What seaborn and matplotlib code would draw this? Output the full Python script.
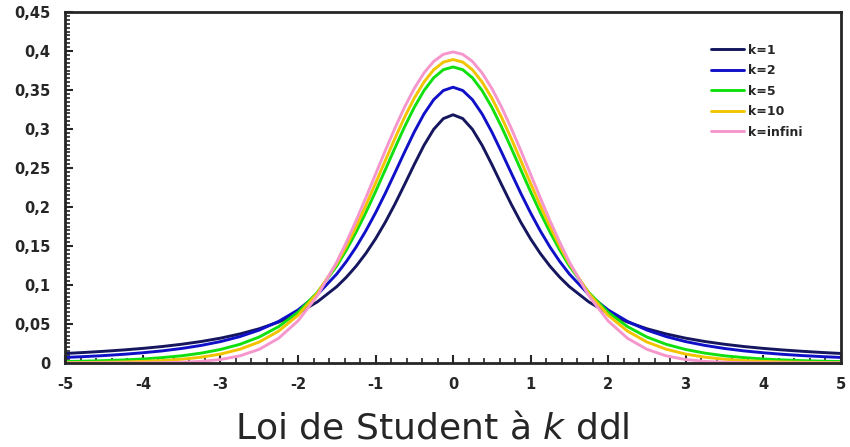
import numpy as np
import pandas as pd
import matplotlib
matplotlib.use("Agg")
import matplotlib.pyplot as plt
import seaborn as sns
from matplotlib.ticker import MultipleLocator, FuncFormatter

# x positions: step 0.25 in the tails, 0.125 around the peak
x_vals = [-5.0, -4.75, -4.5, -4.25, -4.0, -3.75, -3.5, -3.25, -3.0, -2.75, -2.5,
          -2.25, -2.0, -1.75, -1.5, -1.375, -1.25, -1.125, -1.0, -0.875, -0.75,
          -0.625, -0.5, -0.375, -0.25, -0.125, 0.0,
          0.125, 0.25, 0.375, 0.5, 0.625, 0.75, 0.875, 1.0, 1.125, 1.25,
          1.375, 1.5, 1.75, 2.0, 2.25, 2.5, 2.75, 3.0, 3.25, 3.5,
          3.75, 4.0, 4.25, 4.5, 4.75, 5.0]

# density values read for each curve
k1 = [0.0122, 0.0135, 0.0150, 0.0167, 0.0187, 0.0211, 0.0240, 0.0275, 0.0318, 0.0372, 0.0439,
      0.0525, 0.0637, 0.0784, 0.0979, 0.1101, 0.1242, 0.1405, 0.1592, 0.1803, 0.2037,
      0.2289, 0.2546, 0.2791, 0.2996, 0.3134, 0.3183,
      0.3134, 0.2996, 0.2791, 0.2546, 0.2289, 0.2037, 0.1803, 0.1592, 0.1405, 0.1242,
      0.1101, 0.0979, 0.0784, 0.0637, 0.0525, 0.0439, 0.0372, 0.0318, 0.0275, 0.0240,
      0.0211, 0.0187, 0.0167, 0.0150, 0.0135, 0.0122]
k2 = [0.0071, 0.0082, 0.0095, 0.0111, 0.0131, 0.0155, 0.0186, 0.0225, 0.0274, 0.0338, 0.0422,
      0.0533, 0.0680, 0.0878, 0.1141, 0.1303, 0.1487, 0.1695, 0.1925, 0.2174, 0.2438,
      0.2705, 0.2963, 0.3193, 0.3376, 0.3494, 0.3536,
      0.3494, 0.3376, 0.3193, 0.2963, 0.2705, 0.2438, 0.2174, 0.1925, 0.1695, 0.1487,
      0.1303, 0.1141, 0.0878, 0.0680, 0.0533, 0.0422, 0.0338, 0.0274, 0.0225, 0.0186,
      0.0155, 0.0131, 0.0111, 0.0095, 0.0082, 0.0071]
k5 = [0.0018, 0.0023, 0.0030, 0.0039, 0.0051, 0.0069, 0.0092, 0.0126, 0.0173, 0.0239, 0.0333,
      0.0466, 0.0651, 0.0905, 0.1245, 0.1450, 0.1679, 0.1929, 0.2197, 0.2476, 0.2757,
      0.3029, 0.3279, 0.3493, 0.3657, 0.3761, 0.3796,
      0.3761, 0.3657, 0.3493, 0.3279, 0.3029, 0.2757, 0.2476, 0.2197, 0.1929, 0.1679,
      0.1450, 0.1245, 0.0905, 0.0651, 0.0466, 0.0333, 0.0239, 0.0173, 0.0126, 0.0092,
      0.0069, 0.0051, 0.0039, 0.0030, 0.0023, 0.0018]
k10 = [0.0004, 0.0006, 0.0009, 0.0013, 0.0020, 0.0031, 0.0048, 0.0074, 0.0114, 0.0176, 0.0269,
       0.0409, 0.0612, 0.0895, 0.1274, 0.1501, 0.1751, 0.2020, 0.2304, 0.2593, 0.2880,
       0.3152, 0.3397, 0.3603, 0.3760, 0.3858, 0.3891,
       0.3858, 0.3760, 0.3603, 0.3397, 0.3152, 0.2880, 0.2593, 0.2304, 0.2020, 0.1751,
       0.1501, 0.1274, 0.0895, 0.0612, 0.0409, 0.0269, 0.0176, 0.0114, 0.0074, 0.0048,
       0.0031, 0.0020, 0.0013, 0.0009, 0.0006, 0.0004]
k_inf = [0.0000, 0.0000, 0.0000, 0.0000, 0.0001, 0.0004, 0.0009, 0.0020, 0.0044, 0.0091, 0.0175,
         0.0317, 0.0540, 0.0863, 0.1295, 0.1550, 0.1826, 0.2119, 0.2420, 0.2721, 0.3011,
         0.3282, 0.3521, 0.3719, 0.3867, 0.3958, 0.3989,
         0.3958, 0.3867, 0.3719, 0.3521, 0.3282, 0.3011, 0.2721, 0.2420, 0.2119, 0.1826,
         0.1550, 0.1295, 0.0863, 0.0540, 0.0317, 0.0175, 0.0091, 0.0044, 0.0020, 0.0009,
         0.0004, 0.0001, 0.0000, 0.0000, 0.0000, 0.0000]

labels = ["k=1", "k=2", "k=5", "k=10", "k=infini"]
colors = ["#15165e", "#1010c8", "#10e010", "#f2c400", "#f596cc"]

frames = []
for lab, vals in zip(labels, [k1, k2, k5, k10, k_inf]):
    frames.append(pd.DataFrame({"x": x_vals, "y": vals, "k": lab}))
df = pd.concat(frames, ignore_index=True)

sns.set_style("ticks")
plt.rcParams["font.family"] = ["DejaVu Sans"]

fig = plt.figure(figsize=(8.5, 4.47), dpi=100)
ax = fig.add_axes([0.077, 0.188, 0.912, 0.785])

sns.lineplot(data=df, x="x", y="y", hue="k", palette=dict(zip(labels, colors)),
             linewidth=2.1, ax=ax)

ax.set_xlim(-5, 5)
ax.set_ylim(0, 0.45)
ax.xaxis.set_major_locator(MultipleLocator(1))
ax.xaxis.set_minor_locator(MultipleLocator(0.2))
ax.yaxis.set_major_locator(MultipleLocator(0.05))
ax.yaxis.set_minor_locator(MultipleLocator(0.005))
ax.yaxis.set_major_formatter(FuncFormatter(lambda v, p: ("%g" % round(v, 3)).replace(".", ",")))
ax.xaxis.set_major_formatter(FuncFormatter(lambda v, p: "%d" % round(v)))

ax.tick_params(which="major", direction="in", length=6, width=1.5, labelsize=10.5)
ax.tick_params(axis="y", which="major", pad=11)
ax.tick_params(axis="x", which="major", pad=10)
ax.tick_params(which="minor", direction="in", length=3.5, width=1.2)
for t in ax.get_xticklabels() + ax.get_yticklabels():
    t.set_fontweight("bold")
for s in ax.spines.values():
    s.set_linewidth(2)
    s.set_visible(True)

ax.set_ylabel("")
ax.set_xlabel("")
fig.text(0.508, 0.02, "Loi de Student à $k$ ddl", fontsize=26, ha="center", va="baseline")

leg = ax.legend(loc="upper left", bbox_to_anchor=(0.833, 0.91), frameon=False,
                borderpad=0, borderaxespad=0,
                handlelength=2.65, handletextpad=0.3, labelspacing=0.6,
                prop={"size": 9, "weight": "bold"})

fig.savefig("out.png", dpi=100)
